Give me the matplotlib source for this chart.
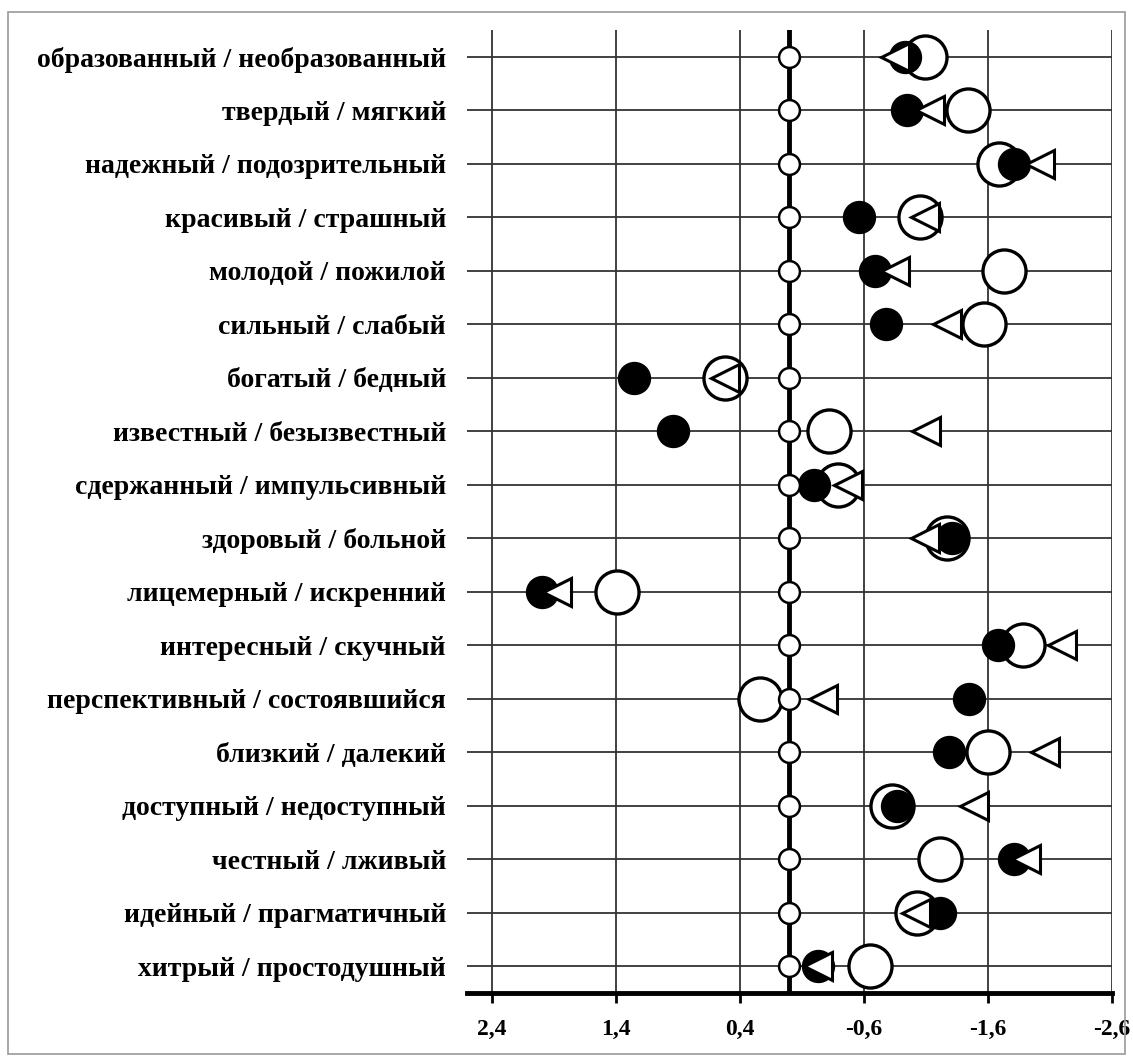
import matplotlib.pyplot as plt
from matplotlib.patches import Rectangle

plt.rcParams['font.family'] = ['Liberation Serif', 'DejaVu Serif']
plt.rcParams['font.weight'] = 'bold'

# пары прилагательных (сверху вниз)
labels = [
    "образованный / необразованный",
    "твердый / мягкий",
    "надежный / подозрительный",
    "красивый / страшный",
    "молодой / пожилой",
    "сильный / слабый",
    "богатый / бедный",
    "известный / безызвестный",
    "сдержанный / импульсивный",
    "здоровый / больной",
    "лицемерный / искренний",
    "интересный / скучный",
    "перспективный / состоявшийся",
    "близкий / далекий",
    "доступный / недоступный",
    "честный / лживый",
    "идейный / прагматичный",
    "хитрый / простодушный",
]

# значения трех серий
open_vals = [-1.09, -1.44, -1.69, -1.05, -1.73, -1.57, 0.52, -0.32, -0.39,
             -1.27, 1.39, -1.88, 0.24, -1.60, -0.83, -1.21, -1.03, -0.65]
black_vals = [-0.93, -0.95, -1.81, -0.56, -0.69, -0.78, 1.25, 0.94, -0.20,
              -1.31, 1.99, -1.68, -1.45, -1.29, -0.87, -1.81, -1.21, -0.23]
tri_vals = [-0.85, -1.13, -2.02, -1.09, -0.85, -1.27, 0.52, -1.10, -0.47,
            -1.09, 1.87, -2.20, -0.27, -2.06, -1.49, -1.91, -1.02, -0.23]
zero_vals = [0.0] * len(labels)

xticks = [2.4, 1.4, 0.4, -0.6, -1.6, -2.6]

fig = plt.figure(figsize=(11.33, 10.63), dpi=100)
fig.patches.append(Rectangle((0.007, 0.008), 0.986, 0.981, transform=fig.transFigure,
                             fill=False, edgecolor="#999999", linewidth=1.2))
ax = fig.add_axes([0.412, 0.066, 0.5695, 0.906])

y = list(range(len(labels)))

for yy in y:
    ax.axhline(yy, color="#333333", linewidth=1.3, zorder=1)
for xt in xticks:
    ax.axvline(xt, color="#333333", linewidth=1.3, zorder=1)
ax.axvline(0, color="black", linewidth=3.5, zorder=2)

ax.plot(open_vals, y, "o", ls="none", markersize=31, markerfacecolor="white",
        markeredgecolor="black", markeredgewidth=2.4, zorder=3)
ax.plot(black_vals, y, "o", ls="none", markersize=23, markerfacecolor="black",
        markeredgecolor="black", markeredgewidth=1, zorder=4)
ax.plot(tri_vals, y, "<", ls="none", markersize=20, markerfacecolor="white",
        markeredgecolor="black", markeredgewidth=2.2, zorder=5)
ax.plot(zero_vals, y, "o", ls="none", markersize=15, markerfacecolor="white",
        markeredgecolor="black", markeredgewidth=1.8, zorder=6)

ax.set_xlim(2.6, -2.6)
ax.set_ylim(17.5, -0.5)
ax.set_xticks(xticks)
ax.set_xticklabels([f"{v:.1f}".replace(".", ",") for v in xticks], fontsize=17,
                   fontweight="bold")
ax.set_yticks(y)
ax.set_yticklabels(labels, fontsize=20, fontweight="bold")
ax.tick_params(axis="y", length=0, pad=15)
ax.tick_params(axis="x", direction="out", length=7, width=2, pad=12)

for s in ["top", "right", "left"]:
    ax.spines[s].set_visible(False)
ax.spines["bottom"].set_linewidth(3.5)

fig.savefig("out.png", dpi=100)
